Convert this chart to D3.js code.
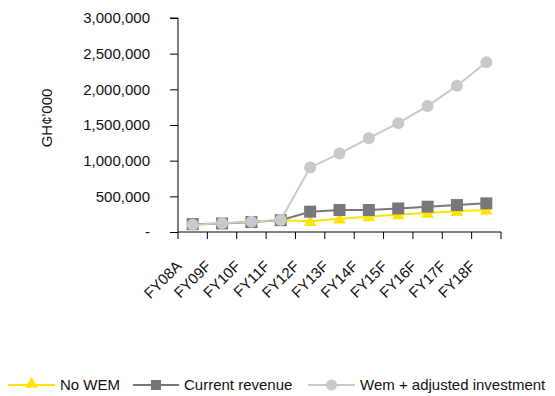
<!DOCTYPE html>
<html>
<head>
<meta charset="utf-8">
<script src="https://cdn.jsdelivr.net/npm/d3@7"></script>
<style>
  html, body { margin: 0; padding: 0; background: #fff; }
  text { font-family: "Liberation Sans", Arial, sans-serif; fill: #111; }
</style>
</head>
<body>
<svg id="chart" width="555" height="396"></svg>
<script>
// Fiscal years
const categories = ["FY08A", "FY09F", "FY10F", "FY11F", "FY12F", "FY13F", "FY14F", "FY15F", "FY16F", "FY17F", "FY18F"];

// Revenue scenarios, GH¢'000
const noWem = [100000, 120000, 140000, 165000, 150000, 185000, 215000, 245000, 265000, 290000, 310000];
const currentRevenue = [110000, 120000, 140000, 165000, 285000, 308000, 308000, 330000, 355000, 378000, 402000];
const wemAdjusted = [100000, 122000, 145000, 168000, 905000, 1100000, 1315000, 1525000, 1765000, 2050000, 2380000];

const yTicks = [0, 500000, 1000000, 1500000, 2000000, 2500000, 3000000];
const seriesNames = ["No WEM", "Current revenue", "Wem + adjusted investment"];

const svg = d3.select("#chart");
const plotLeft = 178, plotRight = 501, plotTop = 18, plotBottom = 232;

const x = d3.scaleBand().domain(categories).range([plotLeft, plotRight]).padding(0);
const y = d3.scaleLinear().domain([0, 3000000]).range([plotBottom, plotTop]);
const cx = c => x(c) + x.bandwidth() / 2;

const fmt = d3.format(",");

// Y axis
const yAxis = d3.axisLeft(y)
  .tickValues(yTicks)
  .tickSize(8)
  .tickPadding(20)
  .tickFormat(d => d === 0 ? "-" : fmt(d));
const gy = svg.append("g").attr("transform", `translate(${plotLeft},0)`).call(yAxis);
gy.select(".domain").attr("stroke", "#000").attr("stroke-width", 1).attr("d", `M-8,${plotTop}H0V${plotBottom}`);
gy.selectAll(".tick line").attr("stroke", "#000");
gy.selectAll(".tick text").style("font-size", "15px").attr("fill", "#111");

// X axis: ticks on category boundaries
const gx = svg.append("g").attr("transform", `translate(0,${plotBottom})`);
gx.append("line").attr("x1", plotLeft).attr("x2", plotRight).attr("y1", 0).attr("y2", 0).attr("stroke", "#000");
const edges = categories.map(c => x(c)).concat([plotRight]);
gx.selectAll("line.edge").data(edges).join("line")
  .attr("class", "edge")
  .attr("x1", d => d).attr("x2", d => d)
  .attr("y1", 0).attr("y2", 7)
  .attr("stroke", "#000");
gx.selectAll("text.cat").data(categories).join("text")
  .attr("class", "cat")
  .attr("text-anchor", "end")
  .attr("transform", c => `translate(${cx(c) - 10},${35}) rotate(-45)`)
  .style("font-size", "15px")
  .text(c => c);

// Y axis title
svg.append("text")
  .attr("transform", `translate(52,118) rotate(-90)`)
  .attr("text-anchor", "middle")
  .style("font-size", "15px")
  .text("GH¢'000");

const line = d3.line().x((d, i) => cx(categories[i])).y(d => y(d));

const yellow = "#FFE400", darkGrey = "#78777D", lightGrey = "#C9C9CB";

// No WEM
svg.append("path").datum(noWem).attr("d", line)
  .attr("fill", "none").attr("stroke", yellow).attr("stroke-width", 2);
const tri = d3.symbol().type(d3.symbolTriangle).size(70);
svg.selectAll("path.tri").data(noWem).join("path")
  .attr("class", "tri")
  .attr("d", tri)
  .attr("transform", (d, i) => `translate(${cx(categories[i])},${y(d) + 1})`)
  .attr("fill", yellow);

// Current revenue
svg.append("path").datum(currentRevenue).attr("d", line)
  .attr("fill", "none").attr("stroke", darkGrey).attr("stroke-width", 2);
svg.selectAll("rect.sq").data(currentRevenue).join("rect")
  .attr("class", "sq")
  .attr("x", (d, i) => cx(categories[i]) - 6)
  .attr("y", d => y(d) - 6)
  .attr("width", 12).attr("height", 12)
  .attr("fill", darkGrey);

// Wem + adjusted investment
svg.append("path").datum(wemAdjusted).attr("d", line)
  .attr("fill", "none").attr("stroke", lightGrey).attr("stroke-width", 2);
svg.selectAll("circle.dot").data(wemAdjusted).join("circle")
  .attr("class", "dot")
  .attr("cx", (d, i) => cx(categories[i]))
  .attr("cy", d => y(d))
  .attr("r", 6)
  .attr("fill", lightGrey);

// Legend
const legendY = 385;
const legendItems = [
  { name: seriesNames[0], x0: 8, x1: 55, color: yellow, shape: "tri", tx: 60 },
  { name: seriesNames[1], x0: 133, x1: 179, color: darkGrey, shape: "sq", tx: 184 },
  { name: seriesNames[2], x0: 308, x1: 355, color: lightGrey, shape: "dot", tx: 360 }
];
const lg = svg.append("g");
legendItems.forEach(it => {
  const mid = (it.x0 + it.x1) / 2;
  lg.append("line").attr("x1", it.x0).attr("x2", it.x1).attr("y1", legendY).attr("y2", legendY)
    .attr("stroke", it.color).attr("stroke-width", 2);
  if (it.shape === "tri") {
    lg.append("path").attr("d", tri).attr("transform", `translate(${mid},${legendY - 1})`).attr("fill", it.color);
  } else if (it.shape === "sq") {
    lg.append("rect").attr("x", mid - 5).attr("y", legendY - 5).attr("width", 10).attr("height", 10).attr("fill", it.color);
  } else {
    lg.append("circle").attr("cx", mid).attr("cy", legendY).attr("r", 5.5).attr("fill", it.color);
  }
  lg.append("text").attr("x", it.tx).attr("y", legendY + 5).style("font-size", "15px").text(it.name);
});
</script>
</body>
</html>
